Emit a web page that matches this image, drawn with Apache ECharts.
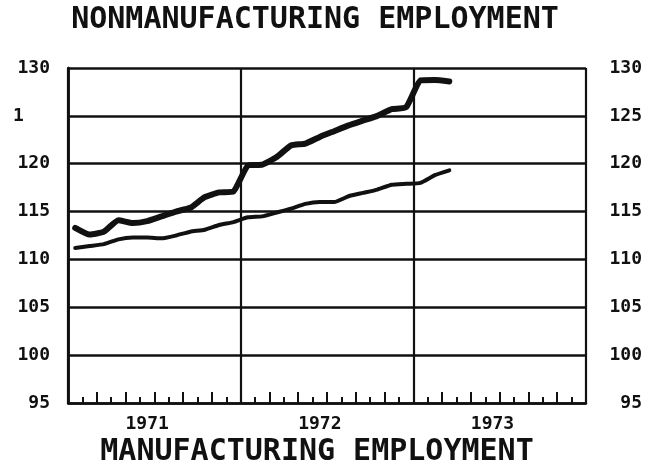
<!DOCTYPE html>
<html>
<head>
<meta charset="utf-8">
<script src="https://cdn.jsdelivr.net/npm/echarts@6/dist/echarts.min.js"></script>
<style>
html,body{margin:0;padding:0;background:#fff;}
#chart{width:648px;height:468px;}
</style>
</head>
<body>
<div id="chart"></div>
<script>
// Chart text
const titleTop = 'NONMANUFACTURING EMPLOYMENT';
const titleBottom = 'MANUFACTURING EMPLOYMENT';
const years = ['1971', '1972', '1973'];
// Y ticks; 125 appears truncated to "1" on the left side of the original
const yTickValues = [95, 100, 105, 110, 115, 120, 125, 130];
const yTickLabelsLeft = ['95', '100', '105', '110', '115', '120', '1', '130'];
const yTickLabelsRight = ['95', '100', '105', '110', '115', '120', '125', '130'];
// Monthly observations, Jan 1971 .. Mar 1973
const obsMonths = ['1971-01','1971-02','1971-03','1971-04','1971-05','1971-06','1971-07','1971-08','1971-09','1971-10','1971-11','1971-12',
  '1972-01','1972-02','1972-03','1972-04','1972-05','1972-06','1972-07','1972-08','1972-09','1972-10','1972-11','1972-12',
  '1973-01','1973-02','1973-03'];
const nonmfg = [113.3,112.6,112.9,114.1,113.8,114.0,114.5,115.0,115.4,116.5,117.0,117.1,
  119.8,119.9,120.7,121.9,122.1,122.8,123.4,124.0,124.5,125.0,125.7,125.9,
  128.7,128.75,128.6];
const mfg = [111.2,111.4,111.6,112.1,112.3,112.3,112.2,112.5,112.9,113.1,113.6,113.9,
  114.4,114.5,114.9,115.3,115.8,116.0,116.0,116.6,116.95,117.3,117.8,117.9,
  118.0,118.8,119.3];

// month position on a continuous scale (months since Jan 1971, centred in month)
function monthPos(s){ const [y,m]=s.split('-').map(Number); return (y-1971)*12 + (m-1) + 0.5; }
const allMonths = [];
years.forEach(y => { for (let m=1;m<=12;m++) allMonths.push(y+'-'+String(m).padStart(2,'0')); });
const totalMonths = allMonths.length;

const chart = echarts.init(document.getElementById('chart'), null, {renderer:'canvas'});
const black = '#111';
const font = 'DejaVu Sans Mono';

const yAxisBase = {
  type:'value', min:95, max:130, interval:5,
  axisLine:{show:true, lineStyle:{color:black, width:2.5}},
  axisTick:{show:false},
  splitLine:{show:false}
};

chart.setOption({
  backgroundColor:'#fff',
  animation:false,
  grid:{left:68, right:62, top:68, bottom:65, containLabel:false},
  graphic:[
    {type:'text', x:315, y:20, style:{text:titleTop, font:'bold 30px "'+font+'"', fill:black, textAlign:'center', textVerticalAlign:'middle'}},
    {type:'text', x:317, y:452, style:{text:titleBottom, font:'bold 30px "'+font+'"', fill:black, textAlign:'center', textVerticalAlign:'middle'}}
  ],
  xAxis:[
    { type:'value', min:0, max:totalMonths, interval:12, position:'bottom',
      axisLine:{show:true, lineStyle:{color:black, width:2.5}},
      axisTick:{show:false}, axisLabel:{show:false},
      splitLine:{show:true, lineStyle:{color:black, width:2.2}} },
    { type:'value', min:0, max:totalMonths, interval:2, position:'bottom',
      axisLine:{show:false}, axisLabel:{show:false}, splitLine:{show:false},
      axisTick:{show:true, inside:true, length:11, lineStyle:{color:black, width:2}},
      minorTick:{show:true, splitNumber:2, length:6, lineStyle:{color:black, width:2}} },
    { type:'category', data:allMonths, position:'bottom', boundaryGap:true,
      axisLine:{show:false}, axisTick:{show:false}, splitLine:{show:false},
      axisLabel:{show:true, margin:12, color:black, fontFamily:font, fontWeight:'bold', fontSize:18,
        interval:(i)=> i%12===5,
        formatter:(v)=> v.slice(0,4)} }
  ],
  yAxis:[
    Object.assign({}, yAxisBase, {
      position:'left',
      splitLine:{show:true, lineStyle:{color:black, width:2.5}},
      axisLabel:{show:true, margin:18, color:black, fontFamily:font, fontWeight:'bold', fontSize:18,
        formatter:(v)=>{ const i=yTickValues.indexOf(v); const t=yTickLabelsLeft[i]; return t.length===1 ? '{n|'+t+'}' : t; },
        rich:{n:{width:37, align:'left', color:black, fontFamily:font, fontWeight:'bold', fontSize:18}}}
    }),
    Object.assign({}, yAxisBase, {
      position:'right',
      axisLabel:{show:true, margin:56, align:'right', color:black, fontFamily:font, fontWeight:'bold', fontSize:18,
        formatter:(v)=> yTickLabelsRight[yTickValues.indexOf(v)]}
    })
  ],
  series:[
    { name:'Nonmanufacturing', type:'line', xAxisIndex:0, yAxisIndex:0, showSymbol:false, smooth:0.15,
      data: obsMonths.map((m,i)=>[monthPos(m), nonmfg[i]]),
      lineStyle:{color:black, width:6, cap:'round', join:'round'}, z:5 },
    { name:'Manufacturing', type:'line', xAxisIndex:0, yAxisIndex:0, showSymbol:false, smooth:0.15,
      data: obsMonths.map((m,i)=>[monthPos(m), mfg[i]]),
      lineStyle:{color:black, width:4, cap:'round', join:'round'}, z:5 }
  ]
});
</script>
</body>
</html>
